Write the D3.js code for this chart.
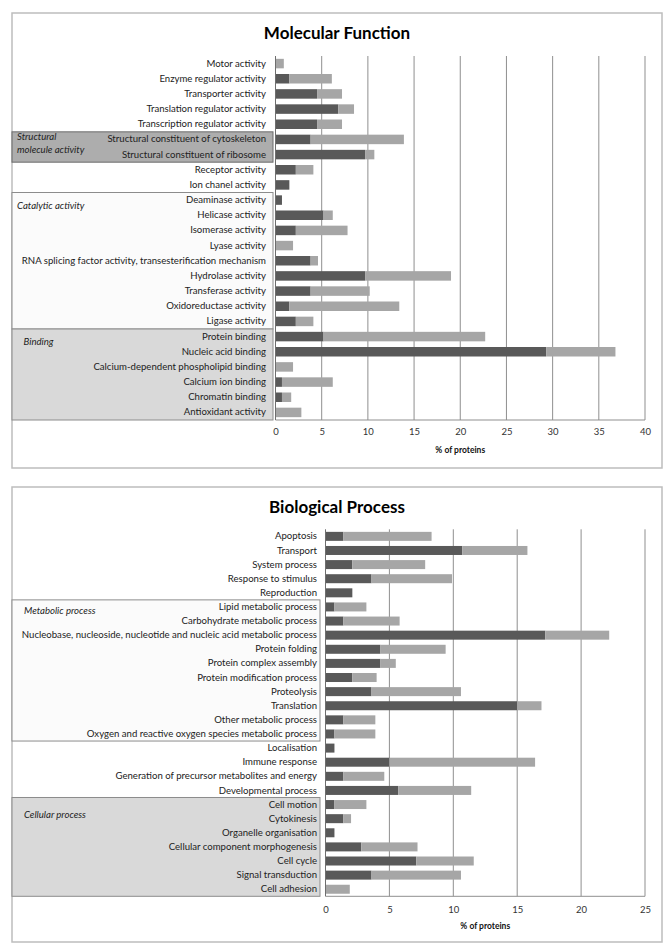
<!DOCTYPE html>
<html><head><meta charset="utf-8">
<script src="https://cdn.jsdelivr.net/npm/d3@7"></script>
<style>
html,body{margin:0;padding:0;background:#fff;}
svg{display:block;font-family:Lato,"Open Sans",sans-serif;}
</style></head>
<body>
<script>
// ---------- Molecular Function data ----------
const mfCategories = [
 "Motor activity","Enzyme regulator activity","Transporter activity","Translation regulator activity",
 "Transcription regulator activity","Structural constituent of cytoskeleton","Structural constituent of ribosome",
 "Receptor activity","Ion chanel activity","Deaminase activity","Helicase activity","Isomerase activity",
 "Lyase activity","RNA splicing factor activity, transesterification mechanism","Hydrolase activity",
 "Transferase activity","Oxidoreductase activity","Ligase activity","Protein binding","Nucleic acid binding",
 "Calcium-dependent phospholipid binding","Calcium ion binding","Chromatin binding","Antioxidant activity"];
const mfDark  = [0,1.5,4.5,6.8,4.5,3.8,9.7,2.2,1.5,0.7,5.2,2.2,0,3.8,9.7,3.8,1.5,2.2,5.2,29.3,0,0.7,0.7,0];
const mfLight = [0.9,4.6,2.7,1.7,2.7,10.1,1.0,1.9,0,0,1.0,5.6,1.9,0.8,9.3,6.4,11.9,1.9,17.5,7.5,1.9,5.5,1.0,2.8];
const mfTicks = [0,5,10,15,20,25,30,35,40];
const mfGroups = [
 {lines:["Structural","molecule activity"], from:5, to:6, kind:"dark"},
 {lines:["Catalytic activity"], from:9, to:17, kind:"white"},
 {lines:["Binding"], from:18, to:23, kind:"light"}];

// ---------- Biological Process data ----------
const bpCategories = [
 "Apoptosis","Transport","System process","Response to stimulus","Reproduction","Lipid metabolic process",
 "Carbohydrate metabolic process","Nucleobase, nucleoside, nucleotide and nucleic acid metabolic process",
 "Protein folding","Protein complex assembly","Protein modification process","Proteolysis","Translation",
 "Other metabolic process","Oxygen and reactive oxygen species metabolic process","Localisation",
 "Immune response","Generation of precursor metabolites and energy","Developmental process","Cell motion",
 "Cytokinesis","Organelle organisation","Cellular component morphogenesis","Cell cycle","Signal transduction",
 "Cell adhesion"];
const bpDark  = [1.4,10.7,2.1,3.6,2.1,0.7,1.4,17.2,4.3,4.3,2.1,3.6,15.0,1.4,0.7,0.7,5.0,1.4,5.7,0.7,1.4,0.7,2.8,7.1,3.6,0];
const bpLight = [6.9,5.1,5.7,6.3,0,2.5,4.4,5.0,5.1,1.2,1.9,7.0,1.9,2.5,3.2,0,11.4,3.2,5.7,2.5,0.6,0,4.4,4.5,7.0,1.9];
const bpTicks = [0,5,10,15,20,25];
const bpGroups = [
 {lines:["Metabolic process"], from:5, to:14, kind:"white"},
 {lines:["Cellular process"], from:19, to:25, kind:"light"}];

const W = 672, H = 952;
const svg = d3.select("body").append("svg").attr("width",W).attr("height",H);

const groupStyle = {
  dark:  {fill:"#adadad", stroke:"#6a6a6a"},
  white: {fill:"#fbfbfb", stroke:"#8c8c8c"},
  light: {fill:"#d9d9d9", stroke:"#8c8c8c"}
};

function panel(cfg){
  const g = svg.append("g");
  g.append("rect").attr("x",cfg.box[0]).attr("y",cfg.box[1])
   .attr("width",cfg.box[2]-cfg.box[0]).attr("height",cfg.box[3]-cfg.box[1])
   .attr("fill","#fff").attr("stroke","#bdbdbd").attr("stroke-width",1.5);
  g.append("text").attr("x",cfg.titleX).attr("y",cfg.titleY).attr("text-anchor","middle")
   .attr("font-size",17).attr("font-weight","bold").attr("fill","#000").text(cfg.title);

  const x = d3.scaleLinear().domain([0,cfg.ticks[cfg.ticks.length-1]]).range([cfg.x0,cfg.x1]);
  const y = d3.scaleBand().domain(cfg.cats).range([cfg.y0,cfg.y1]).paddingInner(cfg.pad).paddingOuter(cfg.pad/2);
  const step = y.step();

  cfg.groups.forEach(gr=>{
    const top = cfg.y0 + gr.from*step, bot = cfg.y0 + (gr.to+1)*step;
    const st = groupStyle[gr.kind];
    g.append("rect").attr("x",cfg.box[0]).attr("y",top).attr("width",cfg.groupRight-cfg.box[0])
     .attr("height",bot-top).attr("fill",st.fill).attr("stroke",st.stroke).attr("stroke-width",1);
  });
  cfg.groups.forEach((gr,i)=>{
    const top = cfg.y0 + gr.from*step;
    const lp = cfg.groupLabelPos[i];
    gr.lines.forEach((ln,j)=>{
      g.append("text").attr("x",lp[0]).attr("y",top+lp[1]+j*13).attr("font-size",cfg.fs)
       .attr("font-style","italic").attr("fill","#222").attr("dominant-baseline","middle").text(ln);
    });
  });

  g.append("g").selectAll("line").data(cfg.ticks.slice(1)).join("line")
   .attr("x1",d=>x(d)).attr("x2",d=>x(d)).attr("y1",cfg.y0).attr("y2",cfg.y1)
   .attr("stroke","#8f8f8f").attr("stroke-width",1);
  g.append("line").attr("x1",cfg.x0).attr("x2",cfg.x1).attr("y1",cfg.y1).attr("y2",cfg.y1)
   .attr("stroke","#8f8f8f").attr("stroke-width",1);

  const bh = cfg.barH;
  g.append("g").selectAll("rect").data(cfg.cats).join("rect")
   .attr("x",x(0)).attr("y",d=>y(d)+y.bandwidth()/2-bh/2)
   .attr("width",(d,i)=>x(cfg.dark[i])-x(0)).attr("height",bh).attr("fill","#595959");
  g.append("g").selectAll("rect").data(cfg.cats).join("rect")
   .attr("x",(d,i)=>x(cfg.dark[i])).attr("y",d=>y(d)+y.bandwidth()/2-bh/2)
   .attr("width",(d,i)=>x(cfg.dark[i]+cfg.light[i])-x(cfg.dark[i])).attr("height",bh).attr("fill","#a6a6a6");

  g.append("line").attr("x1",cfg.x0).attr("x2",cfg.x0).attr("y1",cfg.y0).attr("y2",cfg.y1)
   .attr("stroke","#6e6e6e").attr("stroke-width",1);

  const yAxis = d3.axisLeft(y).tickSize(0).tickPadding(cfg.x0-cfg.labelRight);
  const ya = g.append("g").attr("transform",`translate(${cfg.x0},0)`).call(yAxis);
  ya.select(".domain").remove();
  ya.selectAll("text").attr("font-size",cfg.fs).attr("fill","#222").attr("font-family","Lato,sans-serif");

  const xAxis = d3.axisBottom(x).tickValues(cfg.ticks).tickSize(0).tickPadding(cfg.tickPad);
  const xa = g.append("g").attr("transform",`translate(0,${cfg.y1})`).call(xAxis);
  xa.select(".domain").remove();
  xa.selectAll("text").attr("font-size",9.5).attr("fill","#333").attr("font-family","Lato,sans-serif");

  g.append("text").attr("x",(cfg.x0+cfg.x1)/2).attr("y",cfg.xTitleY).attr("text-anchor","middle")
   .attr("font-size",8.5).attr("font-weight","bold").attr("fill","#111").text("% of proteins");
}

panel({
  box:[12,13,662,468], title:"Molecular Function", titleX:337, titleY:39,
  cats:mfCategories, dark:mfDark, light:mfLight, ticks:mfTicks, groups:mfGroups,
  x0:275.5, x1:645, y0:56, y1:420, pad:0.36, barH:9.5, fs:9.6,
  groupRight:273, labelRight:266, tickPad:8, xTitleY:453,
  groupLabelPos:[[17,6],[17,14],[23.5,13.5]]
});

panel({
  box:[12,487,662,942], title:"Biological Process", titleX:337, titleY:513,
  cats:bpCategories, dark:bpDark, light:bpLight, ticks:bpTicks, groups:bpGroups,
  x0:325.5, x1:645, y0:529.3, y1:896.3, pad:0.36, barH:9, fs:9.6,
  groupRight:320, labelRight:317, tickPad:10, xTitleY:929,
  groupLabelPos:[[24,12],[24,18.5]]
});
</script>
</body></html>
